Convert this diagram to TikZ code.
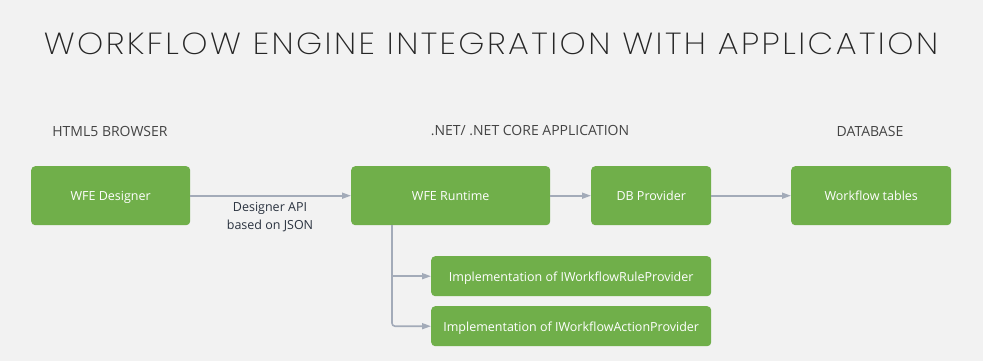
\documentclass[tikz,border=0pt]{standalone}
\usepackage{fontspec}
\setmainfont{Open Sans}
\newfontfamily\titlefont{Poppins ExtraLight}[LetterSpace=7.3]
\usetikzlibrary{arrows.meta}
\definecolor{bg}{HTML}{F2F2F2}
\definecolor{boxgreen}{HTML}{70AF4A}
\definecolor{conn}{HTML}{A3ABB9}
\definecolor{hdr}{HTML}{444444}
\definecolor{lbl}{HTML}{2B3340}
\tikzset{
  gbox/.style={fill=boxgreen, rounded corners=4pt, inner sep=0pt, anchor=north west},
  boxtext/.style={text=white, font=\fontsize{12.5}{14}\selectfont, text height=11pt, text depth=1pt},
  hdrtext/.style={text=hdr, font=\fontsize{14}{16}\selectfont},
  conn/.style={draw=conn, line width=1.6pt, -{Triangle[length=9pt,width=6pt]}},
}
\begin{document}
\begin{tikzpicture}[x=1pt,y=-1pt]
\fill[bg] (0,0) rectangle (983,361);
\useasboundingbox (0,0) rectangle (983,361);
\node[text=black!85, font=\titlefont\fontsize{30.5}{34}\selectfont, xscale=1.09] (title) at (491,44) {WORKFLOW ENGINE INTEGRATION WITH APPLICATION};
\node[hdrtext] (h1) at (110,131) {HTML5 BROWSER};
\node[hdrtext] (h2) at (530,131) {.NET/ .NET CORE APPLICATION};
\node[hdrtext] (h3) at (870,131) {DATABASE};
\node[gbox, minimum width=159pt, minimum height=59pt] (des) at (31,166) {};
\node[boxtext] (desl) at (des.center) {WFE Designer};
\node[gbox, minimum width=199pt, minimum height=59pt] (run) at (351,166) {};
\node[boxtext] (runl) at (run.center) {WFE Runtime};
\node[gbox, minimum width=120pt, minimum height=59pt] (dbp) at (591,166) {};
\node[boxtext] (dbpl) at (dbp.center) {DB Provider};
\node[gbox, minimum width=160pt, minimum height=59pt] (tab) at (791,166) {};
\node[boxtext] (tabl) at (tab.center) {Workflow tables};
\node[gbox, minimum width=280pt, minimum height=40pt] (rule) at (431,256) {};
\node[boxtext] (rulel) at (rule.center) {Implementation of IWorkflowRuleProvider};
\node[gbox, minimum width=280pt, minimum height=40pt] (act) at (431,306) {};
\node[boxtext] (actl) at (act.center) {Implementation of IWorkflowActionProvider};
\draw[conn] (des.east) -- (run.west);
\node[text=lbl, font=\fontsize{12.5}{18}\selectfont, align=center] (apilbl) at (270,217) {Designer API\\based on JSON};
\draw[conn] (run.east) -- (dbp.west);
\draw[conn] (dbp.east) -- (tab.west);
\coordinate (br) at (392,225);
\draw[conn] (br) |- (rule.west);
\draw[conn, rounded corners=3pt] (br) |- (act.west);
\end{tikzpicture}
\end{document}
